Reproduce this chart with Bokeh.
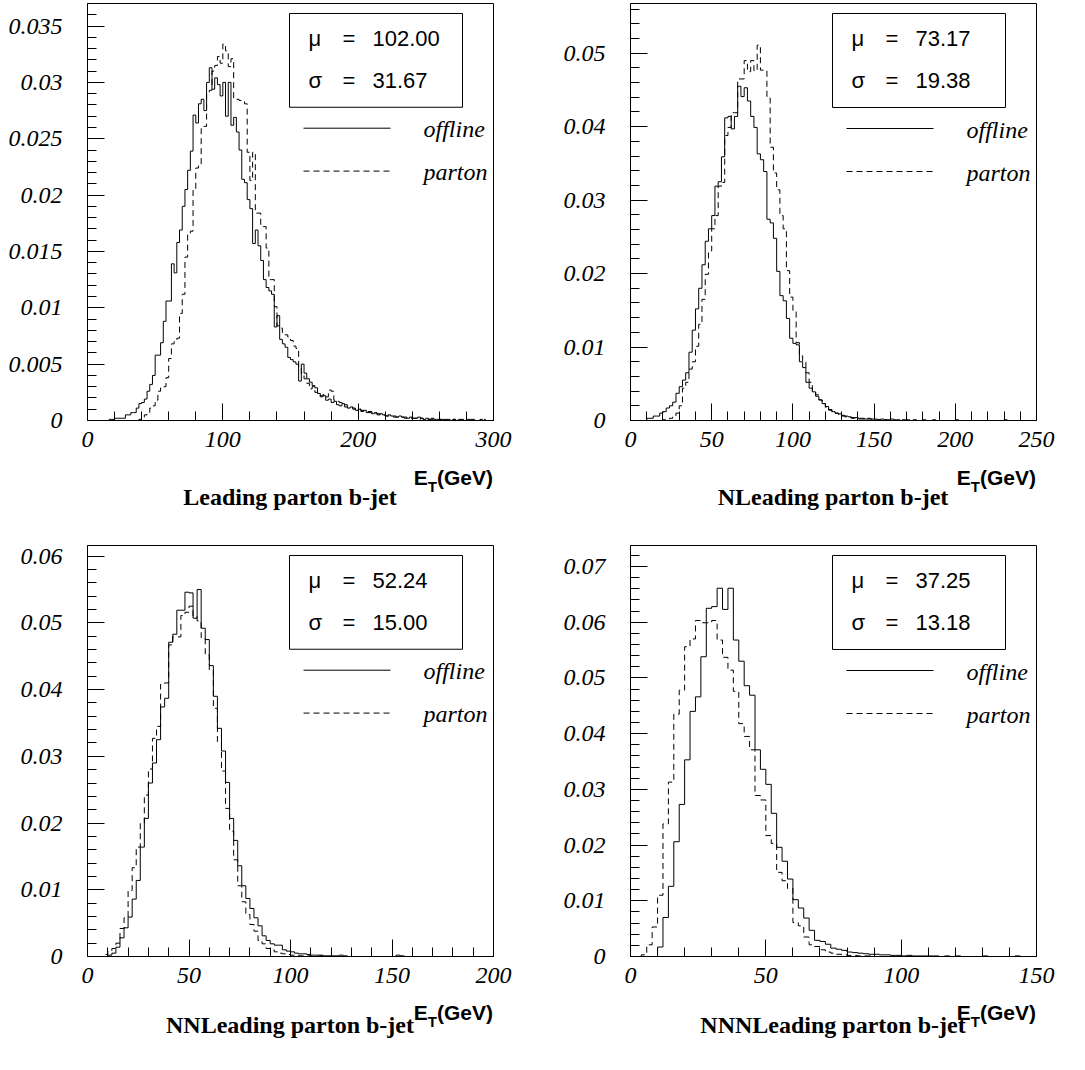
from bokeh.plotting import figure
from bokeh.models import Range1d, FixedTicker, CustomJSTickFormatter, BoxAnnotation, Label, Div
from bokeh.layouts import row, column
from bokeh.embed import file_html
from bokeh.resources import INLINE

BIN_WIDTH = 2.0

# ---------------- data (fraction of events per 2 GeV bin, bins start at 0) ----------------
P1_OFFLINE = [
    0, 0, 0, 0, 0, 0, 0, 0, 0.0001, 0.0001,
    0.0002, 0.0002, 0.0002, 0.0002, 0.0005, 0.0005, 0.0007, 0.0007, 0.0011, 0.0015,
    0.0016, 0.0019, 0.0026, 0.0032, 0.0040, 0.0058, 0.0058, 0.0069, 0.0088, 0.0106,
    0.0106, 0.0139, 0.0131, 0.0158, 0.0169, 0.0190, 0.0205, 0.0222, 0.0239, 0.0271,
    0.0264, 0.0281, 0.0285, 0.0275, 0.0300, 0.0313, 0.0294, 0.0304, 0.0298, 0.0288,
    0.0300, 0.0270, 0.0300, 0.0262, 0.0269, 0.0256, 0.0240, 0.0214, 0.0211, 0.0196,
    0.0188, 0.0157, 0.0169, 0.0155, 0.0142, 0.0125, 0.0118, 0.0115, 0.0112, 0.0083,
    0.0093, 0.0072, 0.0068, 0.0065, 0.0056, 0.0054, 0.0052, 0.0050, 0.0035, 0.0050,
    0.0042, 0.0037, 0.0034, 0.0031, 0.0029, 0.0024, 0.0021, 0.0022, 0.0018, 0.0019,
    0.0016, 0.0017, 0.0014, 0.0013, 0.0015, 0.0012, 0.0011, 0.0012, 0.0010, 0.0009,
    0.0010, 0.0008, 0.0009, 0.0007, 0.0008, 0.0006, 0.0007, 0.0005, 0.0006, 0.0005,
    0.0004, 0.0005, 0.0004, 0.0004, 0.0003, 0.0004, 0.0003, 0.0003, 0.0002, 0.0003,
    0.0002, 0.0002, 0.0003, 0.0002, 0.0001, 0.0002, 0.0001, 0.0002, 0.0001, 0.0001,
    0.0001, 0.0001, 0, 0.0001, 0, 0.0001, 0, 0.0001, 0, 0,
    0.0001, 0, 0.0001, 0, 0, 0.0001, 0, 0, 0, 0,
]
P1_PARTON = [
    0, 0, 0, 0, 0, 0, 0, 0, 0, 0,
    0, 0, 0, 0, 0, 0, 0, 0, 0, 0.0001,
    0.0002, 0.0005, 0.0007, 0.0011, 0.0013, 0.0018, 0.0026, 0.0030, 0.0030, 0.0038,
    0.0055, 0.0068, 0.0070, 0.0073, 0.0095, 0.0112, 0.0145, 0.0166, 0.0168, 0.0205,
    0.0224, 0.0226, 0.0259, 0.0261, 0.0290, 0.0293, 0.0310, 0.0315, 0.0323, 0.0317,
    0.0334, 0.0328, 0.0314, 0.0321, 0.0285, 0.0285, 0.0284, 0.0283, 0.0281, 0.0238,
    0.0213, 0.0238, 0.0184, 0.0184, 0.0172, 0.0172, 0.0153, 0.0125, 0.0125, 0.0101,
    0.0084, 0.0082, 0.0078, 0.0076, 0.0074, 0.0071, 0.0066, 0.0064, 0.0048, 0.0042,
    0.0037, 0.0033, 0.0028, 0.0030, 0.0025, 0.0024, 0.0022, 0.0023, 0.0021, 0.0027,
    0.0026, 0.0018, 0.0017, 0.0016, 0.0014, 0.0014, 0.0012, 0.0012, 0.0011, 0.0010,
    0.0010, 0.0009, 0.0008, 0.0008, 0.0007, 0.0007, 0.0006, 0.0006, 0.0005, 0.0005,
    0.0004, 0.0004, 0.0004, 0.0003, 0.0003, 0.0003, 0.0003, 0.0002, 0.0002, 0.0002,
    0.0002, 0.0002, 0.0001, 0.0002, 0.0001, 0.0001, 0.0001, 0.0001, 0.0001, 0,
    0.0001, 0, 0.0001, 0, 0, 0.0001, 0, 0, 0.0001, 0,
    0, 0.0001, 0, 0, 0, 0, 0.0001, 0, 0, 0,
]

P2_OFFLINE = [
    0, 0, 0, 0, 0, 0.0003, 0.0003, 0.0006, 0.0006, 0.0010,
    0.0012, 0.0017, 0.0020, 0.0025, 0.0037, 0.0046, 0.0055, 0.0065, 0.0093, 0.0123,
    0.0152, 0.0180, 0.0212, 0.0244, 0.0261, 0.0279, 0.0319, 0.0325, 0.0359, 0.0412,
    0.0414, 0.0397, 0.0414, 0.0455, 0.0441, 0.0453, 0.0435, 0.0414, 0.0399, 0.0363,
    0.0355, 0.0339, 0.0274, 0.0269, 0.0248, 0.0203, 0.0170, 0.0163, 0.0139, 0.0112,
    0.0105, 0.0103, 0.0080, 0.0072, 0.0052, 0.0044, 0.0039, 0.0033, 0.0028, 0.0023,
    0.0019, 0.0014, 0.0012, 0.0010, 0.0009, 0.0007, 0.0006, 0.0005, 0.0004, 0.0004,
    0.0003, 0.0003, 0.0002, 0.0003, 0.0002, 0.0002, 0.0001, 0.0002, 0.0001, 0.0001,
    0.0002, 0.0001, 0.0001, 0, 0.0001, 0.0001, 0, 0.0001, 0, 0,
    0.0001, 0, 0, 0.0001, 0, 0, 0, 0, 0, 0,
    0.0001, 0, 0, 0, 0, 0, 0, 0, 0, 0,
    0, 0, 0, 0, 0, 0.0001, 0, 0, 0, 0,
]
P2_PARTON = [
    0, 0, 0, 0, 0, 0, 0, 0, 0, 0,
    0.0001, 0.0002, 0.0003, 0.0005, 0.0010, 0.0020, 0.0044, 0.0052, 0.0070, 0.0080,
    0.0101, 0.0131, 0.0165, 0.0199, 0.0231, 0.0261, 0.0279, 0.0319, 0.0324, 0.0388,
    0.0399, 0.0419, 0.0419, 0.0465, 0.0465, 0.0490, 0.0475, 0.0490, 0.0476, 0.0511,
    0.0477, 0.0477, 0.0439, 0.0372, 0.0337, 0.0314, 0.0279, 0.0261, 0.0204, 0.0168,
    0.0150, 0.0106, 0.0088, 0.0080, 0.0065, 0.0052, 0.0039, 0.0035, 0.0028, 0.0023,
    0.0018, 0.0015, 0.0012, 0.0010, 0.0008, 0.0006, 0.0005, 0.0004, 0.0003, 0.0003,
    0.0002, 0.0002, 0.0001, 0.0002, 0.0001, 0.0001, 0.0001, 0, 0.0001, 0,
    0.0001, 0, 0, 0.0001, 0, 0, 0, 0, 0.0001, 0,
]

P3_OFFLINE = [
    0, 0, 0, 0, 0, 0.0002, 0.0005, 0.0014, 0.0028, 0.0043,
    0.0059, 0.0086, 0.0114, 0.0164, 0.0207, 0.0260, 0.0290, 0.0325, 0.0374, 0.0387,
    0.0471, 0.0483, 0.0519, 0.0519, 0.0546, 0.0545, 0.0507, 0.0550, 0.0492, 0.0475,
    0.0436, 0.0390, 0.0342, 0.0308, 0.0261, 0.0207, 0.0174, 0.0136, 0.0106, 0.0087,
    0.0072, 0.0058, 0.0046, 0.0031, 0.0024, 0.0019, 0.0017, 0.0017, 0.0010, 0.0008,
    0.0007, 0.0005, 0.0004, 0.0004, 0.0003, 0.0002, 0.0002, 0.0002, 0.0001, 0.0001,
    0.0001, 0.0001, 0.0002, 0.0001, 0, 0, 0, 0, 0, 0,
    0, 0, 0, 0, 0, 0, 0.0002, 0.0001, 0, 0,
]
P3_PARTON = [
    0, 0, 0, 0, 0.0003, 0.0008, 0.0012, 0.0020, 0.0042, 0.0058,
    0.0099, 0.0133, 0.0164, 0.0200, 0.0242, 0.0281, 0.0327, 0.0345, 0.0408, 0.0410,
    0.0467, 0.0479, 0.0479, 0.0511, 0.0516, 0.0525, 0.0510, 0.0503, 0.0478, 0.0452,
    0.0430, 0.0372, 0.0322, 0.0278, 0.0222, 0.0188, 0.0145, 0.0106, 0.0082, 0.0063,
    0.0048, 0.0038, 0.0024, 0.0019, 0.0012, 0.0010, 0.0007, 0.0005, 0.0004, 0.0003,
    0.0002, 0.0002, 0.0001, 0.0001, 0.0001, 0, 0, 0.0001, 0, 0,
]

P4_OFFLINE = [
    0, 0, 0, 0, 0, 0.0017, 0.0070, 0.0126, 0.0206, 0.0273,
    0.0353, 0.0440, 0.0466, 0.0538, 0.0625, 0.0628, 0.0661, 0.0623, 0.0661, 0.0568,
    0.0530, 0.0486, 0.0469, 0.0371, 0.0336, 0.0309, 0.0257, 0.0196, 0.0171, 0.0139,
    0.0102, 0.0087, 0.0069, 0.0047, 0.0029, 0.0027, 0.0022, 0.0015, 0.0013, 0.0011,
    0.0008, 0.0007, 0.0006, 0.0005, 0.0004, 0.0004, 0.0003, 0.0003, 0.0002, 0.0002,
    0.0001, 0.0002, 0.0001, 0.0001, 0.0001, 0.0001, 0.0001, 0, 0.0001, 0,
    0.0001, 0, 0, 0, 0, 0.0001, 0, 0, 0, 0,
    0, 0.0001, 0, 0, 0,
]
P4_PARTON = [
    0, 0, 0.0003, 0.0021, 0.0053, 0.0110, 0.0238, 0.0313, 0.0435, 0.0478,
    0.0556, 0.0570, 0.0603, 0.0599, 0.0599, 0.0603, 0.0568, 0.0537, 0.0514, 0.0476,
    0.0418, 0.0395, 0.0371, 0.0289, 0.0281, 0.0217, 0.0203, 0.0151, 0.0136, 0.0122,
    0.0061, 0.0055, 0.0035, 0.0021, 0.0018, 0.0012, 0.0008, 0.0006, 0.0004, 0.0003,
    0.0002, 0.0002, 0.0001, 0.0001, 0.0001, 0,
]

TITLES = ["Leading parton b-jet", "NLeading parton b-jet",
          "NNLeading parton b-jet", "NNNLeading parton b-jet"]
MU = ["102.00", "73.17", "52.24", "37.25"]
SIGMA = ["31.67", "19.38", "15.00", "13.18"]

P1_XTICKS = [0, 100, 200, 300]
P2_XTICKS = [0, 50, 100, 150, 200, 250]
P3_XTICKS = [0, 50, 100, 150, 200]
P4_XTICKS = [0, 50, 100, 150]
P1_YTICKS = [0, 0.005, 0.01, 0.015, 0.02, 0.025, 0.03, 0.035]
P2_YTICKS = [0, 0.01, 0.02, 0.03, 0.04, 0.05]
P3_YTICKS = [0, 0.01, 0.02, 0.03, 0.04, 0.05, 0.06]
P4_YTICKS = [0, 0.01, 0.02, 0.03, 0.04, 0.05, 0.06, 0.07]

# ---------------- layout / style ----------------
FRAME_W = 406
FIG_W = 540
SERIF = "Liberation Serif"
SANS = "Liberation Sans"
DASH = "6 4"

# fig height; mb = (left, right, top, bottom) borders around the plot frame
PANELS = [
    dict(offline=P1_OFFLINE, parton=P1_PARTON, xmax=300, xticks=P1_XTICKS, xminor=20,
         yticks=P1_YTICKS, yminor=0.001, ymax=0.0370, h=462, mb=(87, 47, 3, 41)),
    dict(offline=P2_OFFLINE, parton=P2_PARTON, xmax=250, xticks=P2_XTICKS, xminor=10,
         yticks=P2_YTICKS, yminor=0.002, ymax=0.05677, h=462, mb=(90, 44, 3, 42)),
    dict(offline=P3_OFFLINE, parton=P3_PARTON, xmax=200, xticks=P3_XTICKS, xminor=10,
         yticks=P3_YTICKS, yminor=0.002, ymax=0.0616, h=468, mb=(87, 47, 15, 41)),
    dict(offline=P4_OFFLINE, parton=P4_PARTON, xmax=150, xticks=P4_XTICKS, xminor=10,
         yticks=P4_YTICKS, yminor=0.002, ymax=0.07377, h=468, mb=(90, 44, 15, 42)),
]
# caption strip below each row: (height, E_T top, caption top)
STRIPS = [(68, 5, 23), (68, 4, 15)]

FMT = CustomJSTickFormatter(code="return String(parseFloat(tick.toFixed(4)));")


def step_path(values, width):
    xs, ys = [0.0], [0.0]
    for i, v in enumerate(values):
        xs += [i * width, (i + 1) * width]
        ys += [v, v]
    xs.append(len(values) * width)
    ys.append(0.0)
    return xs, ys


def minor_list(step, stop, majors):
    out, k = [], 1
    while k * step <= stop + 1e-12:
        v = round(k * step, 6)
        if all(abs(v - m) > 1e-9 for m in majors):
            out.append(v)
        k += 1
    return out


def make_panel(i, cfg):
    fh = cfg["h"]
    ml, mr, mt, mb = cfg["mb"]
    frame_h = fh - mt - mb
    xmax, ymax = cfg["xmax"], cfg["ymax"]
    dx = xmax / FRAME_W
    dy = ymax / frame_h

    p = figure(width=FIG_W, height=fh, x_range=Range1d(0, xmax), y_range=Range1d(0, ymax),
               output_backend="svg", toolbar_location=None,
               min_border_left=ml, min_border_right=mr, min_border_top=mt, min_border_bottom=mb)
    p.grid.visible = False
    p.outline_line_color = "black"
    p.outline_line_alpha = 1.0
    p.outline_line_width = 1
    p.background_fill_color = "white"
    p.border_fill_color = "white"

    p.xaxis.ticker = FixedTicker(ticks=cfg["xticks"],
                                 minor_ticks=minor_list(cfg["xminor"], xmax, cfg["xticks"]))
    p.yaxis.ticker = FixedTicker(ticks=cfg["yticks"],
                                 minor_ticks=minor_list(cfg["yminor"], ymax, cfg["yticks"]))
    for ax in (p.xaxis, p.yaxis):
        ax.formatter = FMT
        ax.axis_line_color = "black"
        ax.major_tick_line_color = "black"
        ax.minor_tick_line_color = "black"
        ax.major_tick_in = 17
        ax.major_tick_out = 0
        ax.minor_tick_in = 9
        ax.minor_tick_out = 0
        ax.major_label_text_font = SERIF
        ax.major_label_text_font_style = "italic"
        ax.major_label_text_font_size = "24px"
        ax.major_label_text_color = "black"
    p.yaxis.major_label_standoff = 25
    p.xaxis.major_label_standoff = 11

    # histograms
    xs, ys = step_path(cfg["offline"], BIN_WIDTH)
    p.line(xs, ys, line_color="black", line_width=1)
    xs, ys = step_path(cfg["parton"], BIN_WIDTH)
    p.line(xs, ys, line_color="black", line_width=1, line_dash=DASH)

    def X(off):
        return off * dx

    def Y(off):  # offset in px below the frame top
        return (frame_h - off) * dy

    # stats box
    p.add_layout(BoxAnnotation(left=X(202), right=X(375), top=Y(10), bottom=Y(104),
                               fill_color=None, fill_alpha=0, line_color="black", line_width=1,
                               line_alpha=1))

    def lab(x, y, text, font, size, style="normal"):
        p.add_layout(Label(x=x, y=y, text=text, text_font=font, text_font_size=size,
                           text_font_style=style, text_align="left",
                           text_baseline="alphabetic", text_color="black"))

    lab(X(221), Y(35), "\u03bc", SANS, "22px")
    lab(X(255), Y(35), "=", SANS, "22px")
    lab(X(285), Y(35), MU[i], SANS, "22px")
    lab(X(221), Y(77), "\u03c3", SANS, "22px")
    lab(X(255), Y(77), "=", SANS, "22px")
    lab(X(285), Y(77), SIGMA[i], SANS, "22px")

    # legend samples
    p.line([X(216), X(303)], [Y(125), Y(125)], line_color="black", line_width=1)
    p.line([X(216), X(303)], [Y(168), Y(168)], line_color="black", line_width=1, line_dash=DASH)
    lab(X(336), Y(126), "offline", SERIF, "24px", "italic")
    lab(X(336), Y(169), "parton", SERIF, "24px", "italic")
    return p


def make_strip(i, cfg, strip):
    h, et_top, cap_top = strip
    ml, mr = cfg["mb"][0], cfg["mb"][1]
    html = (
        f'<div style="position:relative;width:{FIG_W}px;height:{h}px;">'
        f'<div style="position:absolute;right:{mr}px;top:{et_top}px;font-family:\'{SANS}\';'
        f'font-weight:bold;font-size:21px;line-height:21px;white-space:nowrap;color:#000;">'
        f'E<span style="font-size:15px;position:relative;top:7px;">T</span>(GeV)</div>'
        f'<div style="position:absolute;left:{ml}px;width:{FRAME_W}px;top:{cap_top}px;'
        f'text-align:center;font-family:\'{SERIF}\';font-weight:bold;font-size:24px;'
        f'line-height:24px;white-space:nowrap;color:#000;">{TITLES[i]}</div>'
        f'</div>'
    )
    return Div(text=html, width=FIG_W, height=h, margin=(0, 0, 0, 0))


figs = [make_panel(i, c) for i, c in enumerate(PANELS)]
strips = [make_strip(i, c, STRIPS[i // 2]) for i, c in enumerate(PANELS)]
layout = column(row(figs[0], figs[1]), row(strips[0], strips[1]),
                row(figs[2], figs[3]), row(strips[2], strips[3]))

with open("out.html", "w") as f:
    f.write(file_html(layout, INLINE))
